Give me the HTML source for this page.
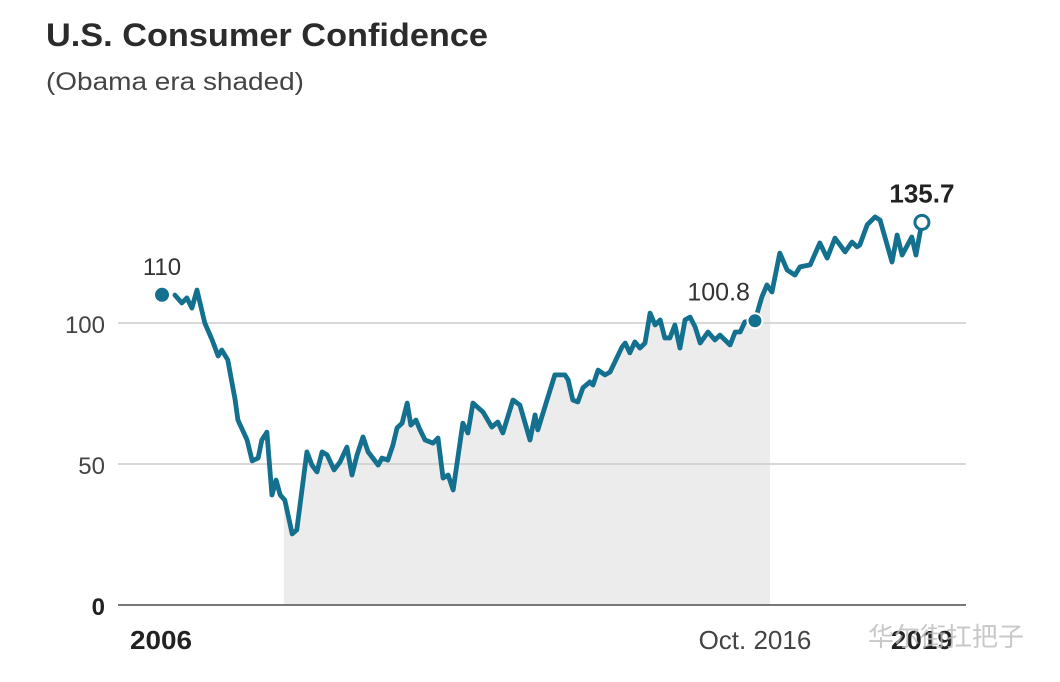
<!DOCTYPE html>
<html><head><meta charset="utf-8"><style>
html,body{margin:0;padding:0;background:#fff;}
svg{display:block;font-family:"Liberation Sans","Noto Sans CJK SC",sans-serif;}
</style></head><body>
<svg id="chart" width="1060" height="682" viewBox="0 0 1060 682">
<text x="46" y="46" font-size="32" font-weight="bold" fill="#2b2b2b" textLength="442" lengthAdjust="spacingAndGlyphs">U.S. Consumer Confidence</text>
<text x="46" y="90" font-size="25" fill="#444" textLength="258" lengthAdjust="spacingAndGlyphs">(Obama era shaded)</text>
<g id="grid"></g>
<g id="marks"></g>
<text x="868" y="646" font-size="26" fill="#bbb" opacity="0.8">华尔街扛把子</text>
</svg>
<script>
const months = [2.8,4.3,5.4,6.5,7.6,9.3,10.9,12.2,13.0,14.3,15.9,16.5,18.5,19.6,20.9,21.7,22.8,23.9,24.8,25.7,26.7,28.3,29.3,31.5,32.6,33.7,34.8,35.9,37.4,38.7,40.2,41.3,42.4,43.7,44.8,47.0,47.8,49.1,50.2,51.1,52.2,53.3,54.1,55.2,56.1,57.2,58.9,60.0,61.1,62.2,63.3,65.4,66.5,67.6,69.8,71.7,73.0,74.1,76.3,77.8,80.0,81.1,81.7,83.7,85.4,87.6,88.3,89.3,90.4,91.5,93.0,93.7,94.8,96.3,97.4,100.0,100.7,101.7,102.8,103.9,105.0,106.1,107.2,108.3,109.3,110.4,111.5,112.6,113.7,114.8,115.9,117.0,118.7,120.2,121.3,123.5,124.6,125.7,126.7,128.9,130.4,131.5,132.6,134.3,135.9,137.6,138.7,140.9,143.0,144.6,146.3,148.5,150.0,151.1,151.7,153.3,155.0,156.1,158.7,159.8,160.9,163.0,163.9,165.2];
const values = [109.9,107.1,108.9,105.3,111.7,100,94.0,88.3,90.4,86.9,72.7,65.6,58.5,51.1,52.1,58.5,61.3,39.0,44.3,39.0,37.2,25.2,26.6,54.3,49.6,47.2,54.3,53.2,47.9,50.7,56.0,46.1,53.2,59.6,54.3,49.6,52.1,51.4,56.7,62.8,64.5,71.6,63.8,65.6,62.1,58.5,57.4,59.2,45.0,46.1,40.8,64.5,61.0,71.6,68.4,63.1,64.9,61.0,72.7,70.9,58.5,67.4,62.1,72.7,81.6,81.6,79.8,72.7,72.0,77.0,79.1,78.0,83.3,81.6,82.6,91.5,92.9,89.4,93.3,91.1,92.9,103.5,99.3,101.1,94.7,94.7,99.3,91.1,101.1,102.1,98.6,92.9,96.8,94.0,95.7,92.2,96.8,96.8,100.4,100.8,109.2,113.5,111.0,124.8,118.8,117.0,119.9,120.6,128.4,123.0,130.1,125.2,128.7,127.0,127.7,134.8,137.6,136.5,121.6,131.2,124.1,130.5,124.1,135.7];
const yTicks = [0,50,100];
const yTickLabels = ["0","50","100"];
const obamaStart = 26.5, obamaEnd = 132.2;
const startDot = {m:0, v:110, label:"110"};
const octDot = {m:128.9, v:100.8, label:"100.8"};
const endDot = {m:165.2, v:135.7, label:"135.7"};
const xLabels = [{m:0,t:"2006",b:true},{m:128.9,t:"Oct. 2016",b:false},{m:165.2,t:"2019",b:true}];

const NS="http://www.w3.org/2000/svg";
const X = m => 162 + m*4.6;
const Y = v => 605 - v*2.82;
function mk(tag, attrs, parent){const e=document.createElementNS(NS,tag);for(const k in attrs)e.setAttribute(k,attrs[k]);parent.appendChild(e);return e;}
const grid=document.getElementById('grid'), marks=document.getElementById('marks');

const clip = months.map((m,i)=>[m,values[i]]).filter(p=>p[0]>=obamaStart&&p[0]<=obamaEnd);
let sd = `M${X(obamaStart)},${Y(0)} L${X(obamaStart)},${Y(clip[0][1])} ` + clip.map(p=>`L${X(p[0])},${Y(p[1])}`).join(' ') + ` L${X(obamaEnd)},${Y(clip[clip.length-1][1])} L${X(obamaEnd)},${Y(0)} Z`;
const shade = mk('path',{d:sd,fill:'#ececec'},grid);



yTicks.forEach((t,i)=>{
  const l = mk('line',{x1:118,x2:966,y1:Y(t),y2:Y(t),stroke:t===0?'#777':'#ccc','stroke-width':t===0?2:1.5},grid);
  
  
  const tx = mk('text',{x:105,y:Y(t)+10,'text-anchor':'end','font-size':24,'font-weight':t===0?'bold':'normal',fill:t===0?'#222':'#444'},grid);
  tx.textContent = yTickLabels[i];
  
  
});

const line = mk('path',{d:months.map((m,i)=>(i?'L':'M')+X(m)+','+Y(values[i])).join(' '),fill:'none',stroke:'#14708f','stroke-width':4.8,'stroke-linejoin':'round','stroke-linecap':'round'},marks);



const d1 = mk('circle',{cx:X(startDot.m),cy:Y(startDot.v),r:7,fill:'#14708f'},marks);


const t1 = mk('text',{x:X(startDot.m),y:Y(startDot.v)-20,'text-anchor':'middle','font-size':24,fill:'#333'},marks);
t1.textContent=startDot.label;



const d2 = mk('circle',{cx:X(octDot.m),cy:Y(octDot.v),r:7.5,fill:'#14708f',stroke:'#fff','stroke-width':2},marks);


const t2 = mk('text',{x:X(octDot.m)-5,y:Y(octDot.v)-20,'text-anchor':'end','font-size':25,fill:'#333'},marks);
t2.textContent=octDot.label;



const d3 = mk('circle',{cx:X(endDot.m),cy:Y(endDot.v),r:7,fill:'#fff',stroke:'#14708f','stroke-width':3},marks);


const t3 = mk('text',{x:X(endDot.m),y:Y(endDot.v)-20,'text-anchor':'middle','font-size':26,'font-weight':'bold',fill:'#222'},marks);
t3.textContent=endDot.label;



xLabels.forEach((o,i)=>{
  const x = i===0?130:X(o.m);
  const attrs = {x:x,y:649,'text-anchor':i===0?'start':'middle','font-size':26,'font-weight':o.b?'bold':'normal',fill:o.b?'#222':'#444'};
  if(o.b){attrs.textLength=62;attrs.lengthAdjust='spacingAndGlyphs';}
  const t = mk('text',attrs,marks);
  t.textContent=o.t;
  
  
});
</script>
</body></html>
